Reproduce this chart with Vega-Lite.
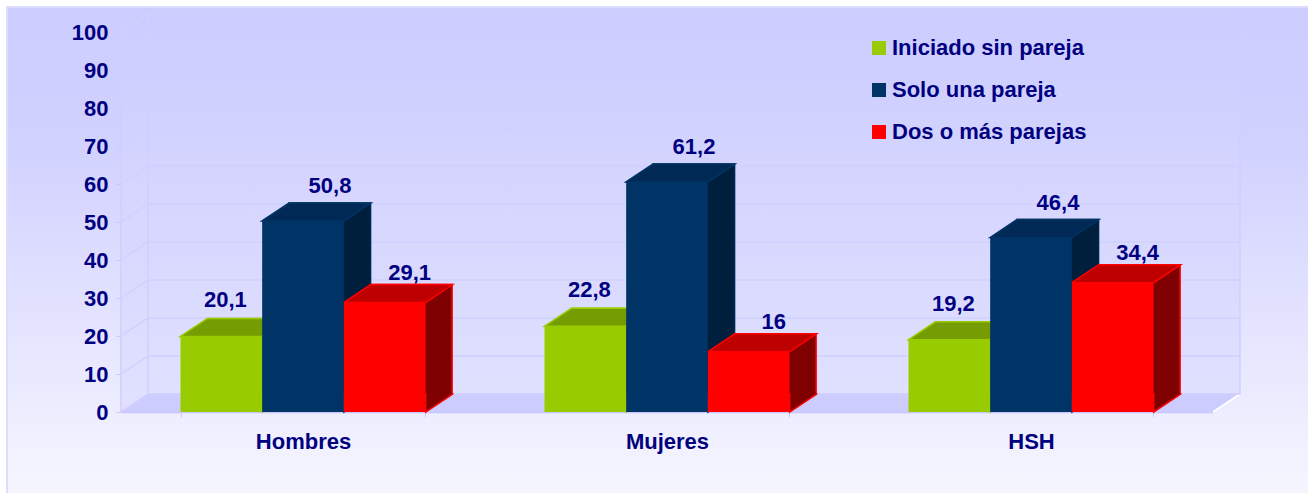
{
"$schema":"https://vega.github.io/schema/vega-lite/v6.json",
"width":1305,"height":490,
"autosize":{"type":"none"},
"padding":{"left":7,"top":7,"right":0,"bottom":0},
"background":"white",
"view":{"stroke":"#dcdcff","strokeWidth":2,"fill":{"gradient":"linear","x1":0,"y1":0,"x2":0,"y2":1,"stops":[{"offset":0,"color":"#ccccff"},{"offset":0.3,"color":"#d2d2ff"},{"offset":1,"color":"#f6f6ff"}]}},
"config":{"font":"Liberation Sans"},
"datasets":{
"filas":[
{"grupo":"Hombres","serie":"Iniciado sin pareja","valor":20.1,"etiqueta":"20,1"},
{"grupo":"Hombres","serie":"Solo una pareja","valor":50.8,"etiqueta":"50,8"},
{"grupo":"Hombres","serie":"Dos o más parejas","valor":29.1,"etiqueta":"29,1"},
{"grupo":"Mujeres","serie":"Iniciado sin pareja","valor":22.8,"etiqueta":"22,8"},
{"grupo":"Mujeres","serie":"Solo una pareja","valor":61.2,"etiqueta":"61,2"},
{"grupo":"Mujeres","serie":"Dos o más parejas","valor":16,"etiqueta":"16"},
{"grupo":"HSH","serie":"Iniciado sin pareja","valor":19.2,"etiqueta":"19,2"},
{"grupo":"HSH","serie":"Solo una pareja","valor":46.4,"etiqueta":"46,4"},
{"grupo":"HSH","serie":"Dos o más parejas","valor":34.4,"etiqueta":"34,4"}],
"marcas":[{"marca":0},{"marca":10},{"marca":20},{"marca":30},{"marca":40},{"marca":50},{"marca":60},{"marca":70},{"marca":80},{"marca":90},{"marca":100}]
},
"data":{"name":"filas"},
"resolve":{"scale":{"y":"independent","color":"independent","fill":"independent","stroke":"independent","xOffset":"independent"}},
"layer":[
{"data":{"name":"marcas"},"transform":[{"filter":"datum.marca===0"}],
 "mark":{"type":"point","shape":"M-511.5,-18 L580.5,-18 L580.5,-398 L-511.5,-398 Z M-538.5,0 L-511.5,-18 L-511.5,-398 L-538.5,-380 Z","size":4,"filled":true,"opacity":1,"stroke":"#d0d0ff","strokeWidth":1.5,
  "fill":{"gradient":"linear","x1":0,"y1":0,"x2":0,"y2":1,"stops":[{"offset":0,"color":"#ccccff"},{"offset":1,"color":"#e1e1ff"}]}},
 "encoding":{"y":{"field":"marca","type":"quantitative","scale":{"domain":[0,100],"range":[405,25]},"axis":null}}},
{"data":{"name":"marcas"},"transform":[{"filter":"datum.marca===0"}],
 "mark":{"type":"point","shape":"M-538.5,0 L-511.5,-18 L580.5,-18 L553.5,0 Z","size":4,"filled":true,"opacity":1,"fill":"#ccccff"},
 "encoding":{"y":{"field":"marca","type":"quantitative","scale":{"domain":[0,100],"range":[405,25]},"axis":null}}},
{"data":{"name":"marcas"},"transform":[{"filter":"datum.marca===0"}],
 "mark":{"type":"point","shape":"M553.5,0 L580.5,-18","size":4,"filled":false,"opacity":1,"stroke":"#ffffff","strokeWidth":2},
 "encoding":{"y":{"field":"marca","type":"quantitative","scale":{"domain":[0,100],"range":[405,25]},"axis":null}}},
{"data":{"name":"marcas"},
 "mark":{"type":"point","shape":"M-538.5,0 L-511.5,-18 L580.5,-18","size":4,"filled":false,"opacity":1,"stroke":"#d0d0ff","strokeWidth":1.5},
 "encoding":{"y":{"field":"marca","type":"quantitative","scale":{"domain":[0,100],"range":[405,25]},
  "axis":{"title":null,"values":[0,10,20,30,40,50,60,70,80,90,100],"offset":-114,"grid":false,"tickSize":5,"tickColor":"#c8c8ff","domainColor":"#c8c8ff","domainWidth":1.5,"labelPadding":8,"labelFontSize":22,"labelFontWeight":"bold","labelColor":"#000080","labelFont":"Liberation Sans"}}}},
{"mark":{"type":"bar","strokeWidth":1.5},
 "encoding":{
  "x":{"field":"grupo","type":"nominal","sort":["Hombres","Mujeres","HSH"],"scale":{"range":[114,1206],"paddingInner":0.327,"paddingOuter":0.1635},
   "axis":{"title":null,"offset":-85,"tickBand":"extent","labelAngle":0,"tickSize":5,"tickColor":"#c8c8ff","domainColor":"#c8c8ff","domainWidth":1.5,"labelPadding":14,"labelFontSize":22,"labelFontWeight":"bold","labelColor":"#000080","labelFont":"Liberation Sans"}},
  "xOffset":{"field":"serie","type":"nominal","sort":["Iniciado sin pareja","Solo una pareja","Dos o más parejas"],"scale":{"range":[27,271.6],"paddingInner":0,"paddingOuter":0}},
  "y":{"field":"valor","type":"quantitative","stack":null,"scale":{"domain":[0,100],"range":[387,11]},"axis":null},
  "fill":{"field":"serie","type":"nominal","legend":null,"scale":{"domain":["Iniciado sin pareja","Solo una pareja","Dos o más parejas"],"range":["#5c7a00","#001f3d","#7f0000"]}},
  "stroke":{"field":"serie","type":"nominal","legend":null,"scale":{"domain":["Iniciado sin pareja","Solo una pareja","Dos o más parejas"],"range":["#99cc00","#002a55","#ff0000"]}}}},
{"data":{"name":"filas"},"mark":{"type":"point","shape":"M41,-19 L41,0 L68,-18 L68,-19","size":4,"filled":true,"opacity":1,"strokeWidth":1.5},
 "encoding":{
  "x":{"field":"grupo","type":"nominal","sort":["Hombres","Mujeres","HSH"]},
  "xOffset":{"field":"serie","type":"nominal","sort":["Iniciado sin pareja","Solo una pareja","Dos o más parejas"]},
  "y":{"datum":0,"type":"quantitative","scale":{"domain":[0,100],"range":[405,29]},"axis":null},
  "fill":{"field":"serie","type":"nominal","legend":null,"scale":{"domain":["Iniciado sin pareja","Solo una pareja","Dos o más parejas"],"range":["#5c7a00","#001f3d","#7f0000"]}},
  "stroke":{"field":"serie","type":"nominal","legend":null,"scale":{"domain":["Iniciado sin pareja","Solo una pareja","Dos o más parejas"],"range":["#99cc00","#002a55","#ff0000"]}}}},
{"transform":[{"filter":"datum.serie==='Iniciado sin pareja'"}],
 "mark":{"type":"text","dx":4,"dy":-36,"fontSize":22,"fontWeight":"bold","font":"Liberation Sans","color":"#000080"},
 "encoding":{
  "x":{"field":"grupo","type":"nominal","sort":["Hombres","Mujeres","HSH"]},
  "xOffset":{"field":"serie","type":"nominal","sort":["Iniciado sin pareja","Solo una pareja","Dos o más parejas"],"scale":{"domain":["Iniciado sin pareja","Solo una pareja","Dos o más parejas"]}},
  "y":{"field":"valor","type":"quantitative","scale":{"domain":[0,100],"range":[405,29]},"axis":null},
  "text":{"field":"etiqueta"}}},
{"transform":[{"filter":"datum.serie==='Solo una pareja'"}],
 "mark":{"type":"text","dx":27,"dy":-35,"fontSize":22,"fontWeight":"bold","font":"Liberation Sans","color":"#000080"},
 "encoding":{
  "x":{"field":"grupo","type":"nominal","sort":["Hombres","Mujeres","HSH"]},
  "xOffset":{"field":"serie","type":"nominal","sort":["Iniciado sin pareja","Solo una pareja","Dos o más parejas"],"scale":{"domain":["Iniciado sin pareja","Solo una pareja","Dos o más parejas"]}},
  "y":{"field":"valor","type":"quantitative","scale":{"domain":[0,100],"range":[405,29]},"axis":null},
  "text":{"field":"etiqueta"}}},
{"transform":[{"filter":"datum.serie==='Dos o más parejas'"}],
 "mark":{"type":"text","dx":25,"dy":-30,"fontSize":22,"fontWeight":"bold","font":"Liberation Sans","color":"#000080"},
 "encoding":{
  "x":{"field":"grupo","type":"nominal","sort":["Hombres","Mujeres","HSH"]},
  "xOffset":{"field":"serie","type":"nominal","sort":["Iniciado sin pareja","Solo una pareja","Dos o más parejas"],"scale":{"domain":["Iniciado sin pareja","Solo una pareja","Dos o más parejas"]}},
  "y":{"field":"valor","type":"quantitative","scale":{"domain":[0,100],"range":[405,29]},"axis":null},
  "text":{"field":"etiqueta"}}},
{"mark":{"type":"point","shape":"M-41,0 L-14,-18 L68,-18 L41,0 Z","size":4,"filled":true,"opacity":1,"strokeWidth":1.5},
 "encoding":{
  "x":{"field":"grupo","type":"nominal","sort":["Hombres","Mujeres","HSH"]},
  "xOffset":{"field":"serie","type":"nominal","sort":["Iniciado sin pareja","Solo una pareja","Dos o más parejas"]},
  "y":{"field":"valor","type":"quantitative","scale":{"domain":[0,100],"range":[405,29]},"axis":null},
  "fill":{"field":"serie","type":"nominal","legend":null,"scale":{"domain":["Iniciado sin pareja","Solo una pareja","Dos o más parejas"],"range":["#759c00","#002a55","#bf0000"]}},
  "stroke":{"field":"serie","type":"nominal","legend":null,"scale":{"domain":["Iniciado sin pareja","Solo una pareja","Dos o más parejas"],"range":["#99cc00","#003366","#ff0000"]}}}},
{"mark":{"type":"bar","strokeWidth":1,"stroke":null},
 "encoding":{
  "x":{"field":"grupo","type":"nominal","sort":["Hombres","Mujeres","HSH"]},
  "xOffset":{"field":"serie","type":"nominal","sort":["Iniciado sin pareja","Solo una pareja","Dos o más parejas"]},
  "y":{"field":"valor","type":"quantitative","stack":null,"scale":{"domain":[0,100],"range":[405,29]},"axis":null},
  "color":{"field":"serie","type":"nominal","scale":{"domain":["Iniciado sin pareja","Solo una pareja","Dos o más parejas"],"range":["#99cc00","#003366","#ff0000"]},
   "legend":{"title":null,"orient":"none","legendX":861,"legendY":30,"symbolType":"square","symbolSize":196,"symbolOpacity":1,"symbolStrokeWidth":0,"rowPadding":20,"labelOffset":2,"labelFontSize":22,"labelFontWeight":"bold","labelColor":"#000080","labelFont":"Liberation Sans","labelLimit":400}}}}
]}
